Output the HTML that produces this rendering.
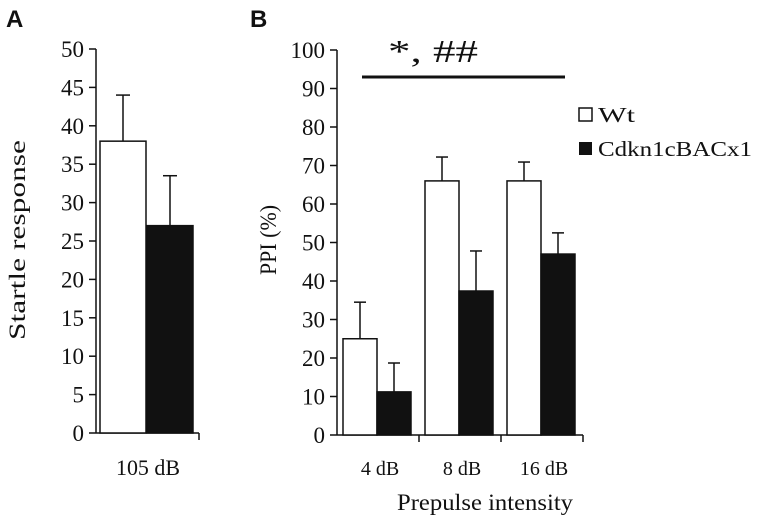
<!DOCTYPE html>
<html><head><meta charset="utf-8"><style>
body{margin:0;background:#fff}
svg text{font-family:"Liberation Serif",serif;fill:#111}
</style></head><body>
<svg id="c" width="759" height="524" viewBox="0 0 759 524">
<text x="6" y="27" style="font-family:'Liberation Sans',sans-serif;font-weight:bold;font-size:24px">A</text>
<text x="250" y="27" style="font-family:'Liberation Sans',sans-serif;font-weight:bold;font-size:24px">B</text>
<text transform="translate(25,240) rotate(-90)" text-anchor="middle" font-size="23" textLength="200" lengthAdjust="spacingAndGlyphs">Startle response</text>
<text transform="translate(276,240) rotate(-90)" text-anchor="middle" font-size="23" textLength="70" lengthAdjust="spacingAndGlyphs">PPI (%)</text>
<text x="148" y="475" text-anchor="middle" font-size="22" textLength="64" lengthAdjust="spacingAndGlyphs">105 dB</text>
<text x="485" y="510" text-anchor="middle" font-size="23" textLength="176" lengthAdjust="spacingAndGlyphs">Prepulse intensity</text>
<line x1="362" y1="77" x2="565" y2="77" stroke="#111" stroke-width="3"/>
<text x="433" y="62" text-anchor="middle" font-size="32" textLength="90" lengthAdjust="spacingAndGlyphs">*, ##</text>
<rect x="579" y="108" width="13" height="13" fill="#fff" stroke="#111" stroke-width="1.5"/>
<text x="598" y="122" font-size="21" textLength="37" lengthAdjust="spacingAndGlyphs">Wt</text>
<rect x="579" y="142" width="13" height="13" fill="#111"/>
<text x="598" y="156" font-size="21" textLength="154" lengthAdjust="spacingAndGlyphs">Cdkn1cBACx1</text>
<g id="ga"></g><g id="gb"></g>
</svg>
<script>
const aTicks=[0,5,10,15,20,25,30,35,40,45,50];
const aValues=[38,27];
const aErr=[44,33.5];
const bCats=["4 dB","8 dB","16 dB"];
const bWt=[25,66,66];
const bWtErr=[34.5,72.2,70.9];
const bKo=[11.2,37.4,47];
const bKoErr=[18.7,47.8,52.5];
const bTicks=[0,10,20,30,40,50,60,70,80,90,100];
const NS="http://www.w3.org/2000/svg";
function mk(p,t,a){const e=document.createElementNS(NS,t);for(const k in a)e.setAttribute(k,a[k]);p.appendChild(e);return e;}
// Panel A
const ga=document.getElementById('ga');
const yA=v=>433-v*(433-49)/50;
mk(ga,'line',{x1:96,y1:yA(50),x2:96,y2:433,stroke:'#111','stroke-width':1.5});
mk(ga,'line',{x1:96,y1:433,x2:199,y2:433,stroke:'#111','stroke-width':1.5});
mk(ga,'line',{x1:199,y1:433,x2:199,y2:440,stroke:'#111','stroke-width':1.5});
aTicks.forEach(t=>{
 const l=mk(ga,'line',{x1:89,y1:yA(t),x2:96,y2:yA(t),stroke:'#111','stroke-width':1.5});
 
 
 const tx=mk(ga,'text',{x:84,y:yA(t)+8,'text-anchor':'end','font-size':23});
 tx.textContent=t;
 
 
});
const aX=[100,147];
aValues.forEach((v,i)=>{
 const cx=aX[i]+23;
 const e=mk(ga,'line',{x1:cx,y1:yA(aErr[i]),x2:cx,y2:yA(v),stroke:'#111','stroke-width':1.5});
 
 
 mk(ga,'line',{x1:cx-7,y1:yA(aErr[i]),x2:cx+7,y2:yA(aErr[i]),stroke:'#111','stroke-width':1.5});
 const r=mk(ga,'rect',{x:aX[i],y:yA(v),width:46,height:433-yA(v),fill:i?'#111':'#fff',stroke:'#111','stroke-width':1.5});
 
 
});
// Panel B
const gb=document.getElementById('gb');
const yB=v=>435-v*3.85;
mk(gb,'line',{x1:337,y1:yB(100),x2:337,y2:435,stroke:'#111','stroke-width':1.5});
mk(gb,'line',{x1:337,y1:435,x2:583,y2:435,stroke:'#111','stroke-width':1.5});
bTicks.forEach(t=>{
 const l=mk(gb,'line',{x1:330,y1:yB(t),x2:337,y2:yB(t),stroke:'#111','stroke-width':1.5});
 
 
 const tx=mk(gb,'text',{x:325,y:yB(t)+8,'text-anchor':'end','font-size':23});
 tx.textContent=t;
 
 
});
const gw=82;
bCats.forEach((c,i)=>{
 const x0=337+i*gw;
 mk(gb,'line',{x1:x0+gw,y1:435,x2:x0+gw,y2:442,stroke:'#111','stroke-width':1.5});
 const tx=mk(gb,'text',{x:x0+gw/2+2,y:475,'text-anchor':'middle','font-size':20});
 tx.textContent=c;
 
 
 [[bWt[i],bWtErr[i],'#fff',x0+6,'bar-wt'],[bKo[i],bKoErr[i],'#111',x0+40,'bar-cdkn']].forEach(([v,er,f,bx,nm])=>{
  const cx=bx+17;
  const e=mk(gb,'line',{x1:cx,y1:yB(er),x2:cx,y2:yB(v),stroke:'#111','stroke-width':1.5});
  
  
  mk(gb,'line',{x1:cx-6,y1:yB(er),x2:cx+6,y2:yB(er),stroke:'#111','stroke-width':1.5});
  const r=mk(gb,'rect',{x:bx,y:yB(v),width:34,height:435-yB(v),fill:f,stroke:'#111','stroke-width':1.5});
  
  
 });
});
</script>
</body></html>
